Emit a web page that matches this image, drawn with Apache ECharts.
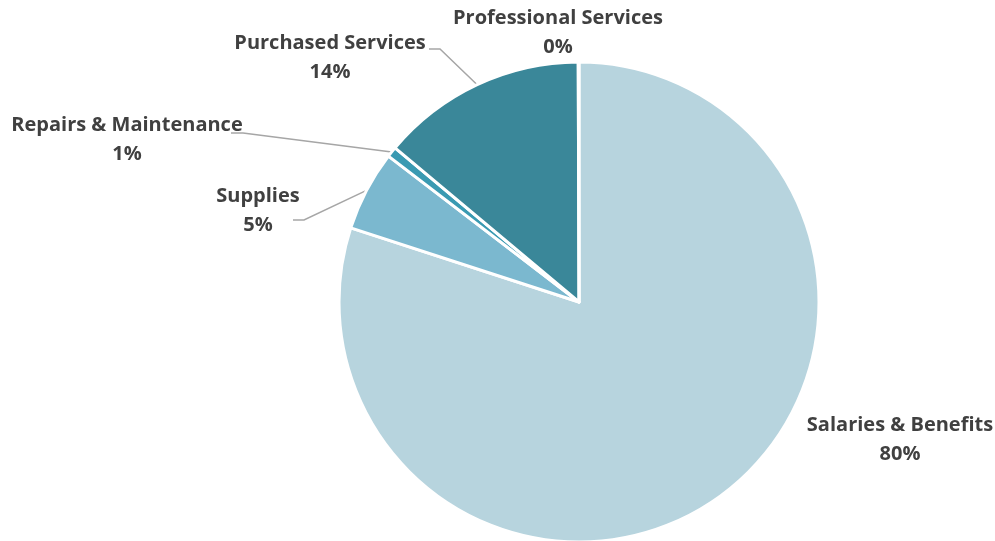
<!DOCTYPE html>
<html>
<head>
<meta charset="utf-8">
<script src="https://cdn.jsdelivr.net/npm/echarts@6/dist/echarts.min.js"></script>
<style>
  html, body { margin: 0; padding: 0; background: #ffffff; }
  #chart { width: 995px; height: 541px; }
</style>
</head>
<body>
<div id="chart"></div>
<script>
// Expense categories, in clockwise order from 12 o'clock
const categories = ['Salaries & Benefits', 'Supplies', 'Repairs & Maintenance', 'Purchased Services', 'Professional Services'];
// Share of total spending (percent)
const shares = [80.0, 5.4, 0.7, 13.85, 0.05];
const sliceColors = ['#b7d4de', '#7bb8cf', '#3a9ab2', '#3a8799', '#3a8799'];

// Label placement: block centre and optional leader-line bend/end points
const labelSpots = [
  { x: 900, y: 440, line: null },
  { x: 258, y: 211, line: [[304, 220], [293, 220]] },
  { x: 127, y: 140, line: [[243, 133], [231, 133]] },
  { x: 330, y: 58, line: [[440, 49], [429, 49]] },
  { x: 558, y: 33, line: null }
];

const chart = echarts.init(document.getElementById('chart'), null, { renderer: 'canvas' });

chart.setOption({
  animation: false,
  series: [{
    type: 'pie',
    center: [579, 302],
    radius: 240,
    startAngle: 90,
    clockwise: true,
    percentPrecision: 0,
    minAngle: 0,
    avoidLabelOverlap: false,
    itemStyle: { borderColor: '#ffffff', borderWidth: 3 },
    label: {
      show: true,
      position: 'outside',
      formatter: '{b}\n{d}%',
      fontFamily: 'Open Sans',
      fontWeight: 'bold',
      fontSize: 20,
      lineHeight: 29,
      color: '#404040',
      align: 'center'
    },
    labelLine: {
      show: true,
      length: 20,
      length2: 10,
      lineStyle: { color: '#a6a6a6', width: 1.5 }
    },
    labelLayout: function (params) {
      const spot = labelSpots[params.dataIndex];
      const out = { x: spot.x, y: spot.y, align: 'center', verticalAlign: 'middle' };
      if (spot.line && params.labelLinePoints) {
        out.labelLinePoints = [params.labelLinePoints[0]].concat(spot.line);
      } else {
        out.labelLinePoints = [[0, 0], [0, 0], [0, 0]];
      }
      return out;
    },
    data: categories.map((name, i) => ({
      name: name,
      value: shares[i],
      itemStyle: { color: sliceColors[i] },
      labelLine: { show: labelSpots[i].line !== null }
    }))
  }]
});
</script>
</body>
</html>
